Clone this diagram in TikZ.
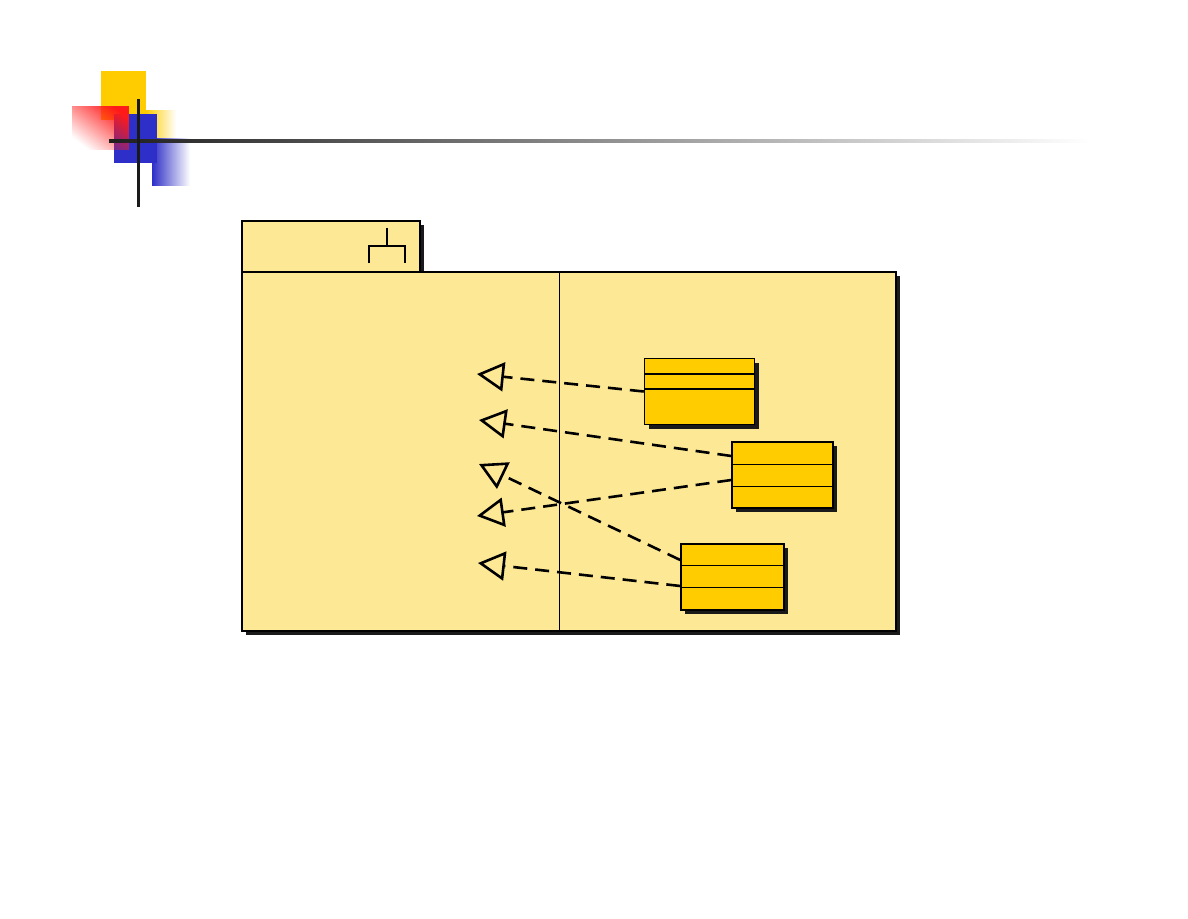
\documentclass[tikz,border=0pt]{standalone}
\usetikzlibrary{arrows.meta,fadings,shadows}

\definecolor{pkgyellow}{HTML}{FDE995}
\definecolor{clsyellow}{HTML}{FFCC00}
\definecolor{decoblue}{HTML}{2E2EC8}
\definecolor{decored}{HTML}{FF1A1A}
\definecolor{shadowgray}{HTML}{1A1A1A}

\tikzfading[name=fadeleft, left color=transparent!0, right color=transparent!100]
\tikzfading[name=fadediag, left color=transparent!100, right color=transparent!0]

\begin{document}
\begin{tikzpicture}[x=1pt,y=-1pt,
    boxshadow/.style={drop shadow={shadow xshift=4pt,shadow yshift=-4pt,fill=shadowgray,opacity=1}},
    pkgbox/.style={draw,line width=2pt,fill=pkgyellow,inner sep=0pt,boxshadow},
    classbox/.style={draw,line width=1.5pt,fill=clsyellow,inner sep=0pt,boxshadow},
    sep/.style={line width=1.5pt},
    realize/.style={line width=2.6pt,dash pattern=on 14pt off 8pt,
      -{Triangle[open,length=27pt,width=29pt,line width=2.6pt,sep=0pt]}}]
  \useasboundingbox (0,0) rectangle (1188,918);

  % slide decoration
  \fill[clsyellow] (101,71) rectangle (146,120);
  \fill[clsyellow,path fading=fadeleft] (146,110) rectangle (176,138);
  \fill[decoblue] (114,114) rectangle (157,163);
  \fill[decoblue,path fading=fadeleft] (152,138) rectangle (190,186);
  \fill[decored,path fading=fadediag,fading angle=45] (72,106) rectangle (129,150);
  \shade[left color=black!88,right color=white] (109,139) rectangle (1090,142);
  \fill[shadowgray] (136.5,99) rectangle (139.5,207);

  % package
  \node[pkgbox,minimum width=178pt,minimum height=51pt] (pkgtab) at (331,246.5) {};
  \node[pkgbox,minimum width=654pt,minimum height=359pt] (pkgbody) at (569,451.5) {};
  \draw[line width=2pt] (387,228) -- (387,246) (369,263) -- (369,246) -- (405,246) -- (405,263);
  \draw[line width=1pt] (559,273) -- (559,630);

  % classes
  \node[classbox,minimum width=110pt,minimum height=66pt] (clsA) at (699.5,391.5) {};
  \node[classbox,minimum width=101pt,minimum height=66pt] (clsB) at (782.5,475) {};
  \node[classbox,minimum width=103pt,minimum height=66pt] (clsC) at (732.5,577) {};
  \draw[sep] ([yshift=-16pt]clsA.north west) -- ([yshift=-16pt]clsA.north east);
  \draw[sep] ([yshift=-31pt]clsA.north west) -- ([yshift=-31pt]clsA.north east);
  \draw[sep] ([yshift=-23pt]clsB.north west) -- ([yshift=-23pt]clsB.north east);
  \draw[sep] ([yshift=-45pt]clsB.north west) -- ([yshift=-45pt]clsB.north east);
  \draw[sep] ([yshift=-22pt]clsC.north west) -- ([yshift=-22pt]clsC.north east);
  \draw[sep] ([yshift=-44pt]clsC.north west) -- ([yshift=-44pt]clsC.north east);

  % interfaces on the left
  \coordinate (tipA) at (477,374);
  \coordinate (tipB) at (479,420);
  \coordinate (tipC) at (479,464);
  \coordinate (tipD) at (477,516);
  \coordinate (tipE) at (478,563);

  \draw[realize] (clsA.west) -- (tipA);
  \draw[realize] ([yshift=19pt]clsB.west) -- (tipB);
  \draw[realize] ([yshift=17pt]clsC.west) -- (tipC);
  \draw[realize] ([yshift=-5pt]clsB.west) -- (tipD);
  \draw[realize] ([yshift=-9pt]clsC.west) -- (tipE);
\end{tikzpicture}
\end{document}
